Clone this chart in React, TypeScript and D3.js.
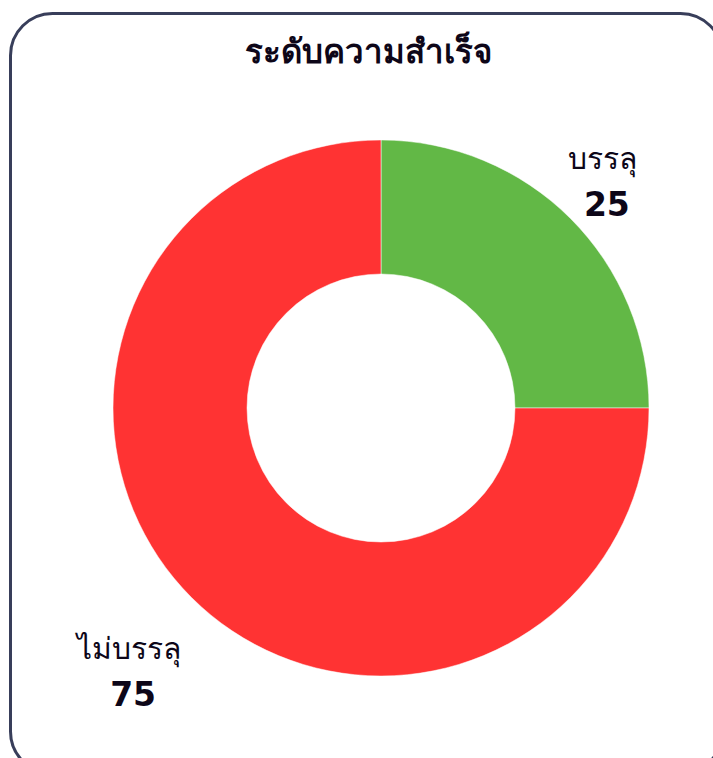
import { useEffect, useRef } from "react";
import * as d3 from "d3";

const categories = ["บรรลุ", "ไม่บรรลุ"];
const values = [25, 75];
const colors = ["#62b846", "#ff3333"];
const title = "ระดับความสำเร็จ";

export default function App() {
  const svgRef = useRef<SVGSVGElement>(null);

  useEffect(() => {
    document.body.style.margin = "0";
    const width = 713;
    const height = 758;
    const svg = d3.select(svgRef.current);
    svg.selectAll("*").remove();
    svg.attr("width", width).attr("height", height);

    // card frame
    svg
      .append("rect")
      .attr("x", 10.5)
      .attr("y", 13.5)
      .attr("width", 712)
      .attr("height", 760)
      .attr("rx", 42)
      .attr("fill", "#fff")
      .attr("stroke", "#383e5a")
      .attr("stroke-width", 3);

    svg
      .append("text")
      .attr("x", 368)
      .attr("y", 63)
      .attr("text-anchor", "middle")
      .style("font-family", "'Noto Sans', sans-serif")
      .attr("font-size", "33px")
      .attr("font-weight", "bold")
      .attr("fill", "#0d0618")
      .text(title);

    const cx = 381;
    const cy = 408;
    const outer = 268;
    const inner = 134;

    const data = categories.map((c, i) => ({ name: c, value: values[i] }));
    const pie = d3.pie<{ name: string; value: number }>().value((d) => d.value).sort(null);
    const arc = d3.arc<d3.PieArcDatum<{ name: string; value: number }>>().innerRadius(inner).outerRadius(outer);
    const labelArc = d3.arc<d3.PieArcDatum<{ name: string; value: number }>>().innerRadius(335).outerRadius(335);

    const g = svg.append("g").attr("transform", `translate(${cx},${cy})`);
    const arcs = pie(data);

    g.selectAll("path")
      .data(arcs)
      .join("path")
      .attr("d", arc)
      .attr("fill", (_, i) => colors[i])
      .attr("stroke", "#fff")
      .attr("stroke-width", 0.5);

    const labels = g
      .selectAll(".lbl")
      .data(arcs)
      .join("g")
      .attr("class", "lbl")
      .attr("transform", (d) => {
        const [x, y] = labelArc.centroid(d);
        return `translate(${x - 15},${y + (y > 0 ? 26 : 10)})`;
      });

    labels
      .append("text")
      .attr("text-anchor", "middle")
      .attr("y", -12)
      .style("font-family", "'Noto Sans', sans-serif")
      .attr("font-size", "30px")
      .attr("fill", "#0d0618")
      .text((d) => d.data.name);

    labels
      .append("text")
      .attr("text-anchor", "middle")
      .attr("x", 4)
      .attr("y", 35)
      .style("font-family", "'DejaVu Sans', sans-serif")
      .attr("font-size", "33px")
      .attr("font-weight", "900")
      .attr("fill", "#0d0618")
      .text((d) => d.data.value);
  }, []);

  return <svg ref={svgRef} style={{ display: "block" }} />;
}
